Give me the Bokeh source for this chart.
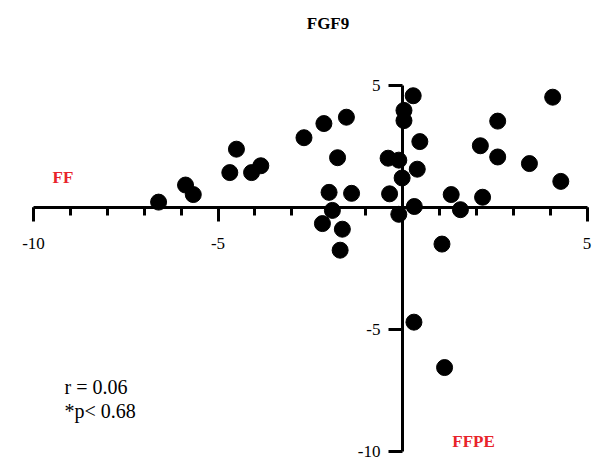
from bokeh.plotting import figure
from bokeh.models import LinearAxis, FixedTicker, Range1d, Label
from bokeh.embed import file_html
from bokeh.resources import INLINE

# data
fgf9_ff = [-6.61, -5.88, -5.67, -4.68, -4.50, -4.09, -3.84, -2.67, -2.13, -1.52,
           -1.76, -1.99, -1.38, -1.90, -2.17, -1.63, -1.69, -0.39, -0.10, -0.35,
           -0.01, -0.10, 0.04, 0.04, 0.29, 0.47, 0.40, 0.32, 1.32, 1.57,
           1.07, 0.31, 1.14, 2.11, 2.58, 2.58, 2.17, 3.44, 4.07, 4.29]
fgf9_ffpe = [0.20, 0.90, 0.51, 1.41, 2.37, 1.41, 1.69, 2.84, 3.42, 3.68,
             2.02, 0.60, 0.56, -0.14, -0.68, -0.91, -1.77, 2.00, 1.92, 0.54,
             1.19, -0.30, 3.96, 3.54, 4.56, 2.68, 1.55, 0.02, 0.51, -0.11,
             -1.52, -4.72, -6.58, 2.51, 3.52, 2.05, 0.40, 1.78, 4.50, 1.05]
x_major = [-10, -5, 5]
x_minor = list(range(-10, 6))
y_major = [-10, -5, 5]
tick_text = {-10: "-10", -5: "-5", 5: "5"}
title_text = "FGF9"
x_name = "FF"
y_name = "FFPE"
stats = ["r = 0.06", "*p< 0.68"]

W, H = 593, 461
x0_px, x_scale = 402.0, 36.9
y0_px, y_scale = 206.5, 24.4

p = figure(width=W, height=H, output_backend="svg", toolbar_location=None,
           x_axis_location=None, y_axis_location=None, min_border=0,
           x_range=Range1d(-x0_px / x_scale, (W - x0_px) / x_scale),
           y_range=Range1d(-(H - y0_px) / y_scale, y0_px / y_scale))
p.outline_line_color = None
p.xgrid.visible = False
p.ygrid.visible = False
p.background_fill_color = "white"
p.border_fill_color = "white"

FONT = "Liberation Serif"

xa = LinearAxis(fixed_location=0, bounds=(-10, 5),
                ticker=FixedTicker(ticks=x_major, minor_ticks=x_minor),
                major_label_overrides=tick_text)
xa.axis_line_width = 3
xa.major_tick_line_width = 3
xa.minor_tick_line_width = 3
xa.major_tick_in = 0
xa.major_tick_out = 14
xa.minor_tick_in = 0
xa.minor_tick_out = 8
xa.major_label_standoff = 17
xa.major_label_text_font = FONT
xa.major_label_text_font_size = "17px"
xa.major_label_text_color = "black"
p.add_layout(xa, "below")

ya = LinearAxis(fixed_location=0, bounds=(-10, 5),
                ticker=FixedTicker(ticks=y_major, minor_ticks=[]),
                major_label_overrides=tick_text)
ya.axis_line_width = 3
ya.major_tick_line_width = 3
ya.major_tick_in = 0
ya.major_tick_out = 14
ya.minor_tick_in = 0
ya.minor_tick_out = 0
ya.major_label_standoff = 8
ya.major_label_text_font = FONT
ya.major_label_text_font_size = "17px"
ya.major_label_text_color = "black"
p.add_layout(ya, "left")

p.scatter(fgf9_ff, fgf9_ffpe, size=16, color="black", marker="circle")

def lab(text, x, y, size, bold=False, color="black", align="center"):
    p.add_layout(Label(x=x, y=H - y, x_units="screen", y_units="screen", text=text,
                       text_font=FONT, text_font_size=size,
                       text_font_style="bold" if bold else "normal",
                       text_color=color, text_align=align, text_baseline="middle"))

lab(title_text, 327.5, 22.7, "17px", bold=True)
lab(x_name, 62.5, 176.5, "17px", bold=True, color="#e8232a")
lab(y_name, 473, 441, "17px", bold=True, color="#e8232a")
lab(stats[0], 64, 386, "20px", align="left")
lab(stats[1], 64, 410, "20px", align="left")

open("out.html", "w").write(file_html(p, INLINE))
